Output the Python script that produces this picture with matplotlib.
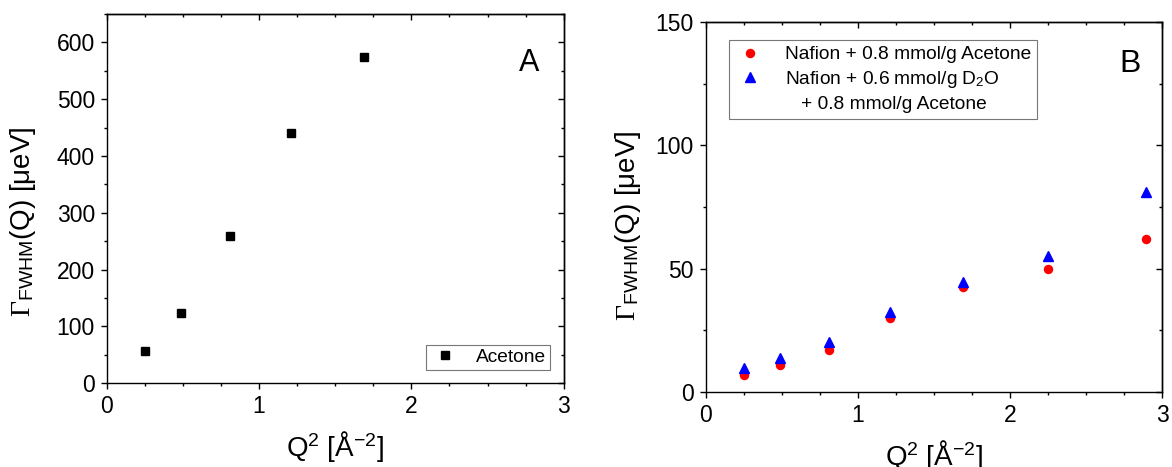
import matplotlib
matplotlib.use('Agg')
import matplotlib.pyplot as plt
from matplotlib.lines import Line2D
from matplotlib.ticker import MultipleLocator

plt.rcParams['font.family'] = ['Liberation Sans', 'DejaVu Sans']
plt.rcParams['mathtext.fontset'] = 'custom'
plt.rcParams['mathtext.rm'] = 'Liberation Serif'
plt.rcParams['mathtext.it'] = 'Liberation Serif:italic'
plt.rcParams['mathtext.sf'] = 'Liberation Sans'
plt.rcParams['axes.linewidth'] = 1.0

# Panel A: pure acetone
q2_a = [0.25, 0.49, 0.81, 1.21, 1.69]
gamma_acetone = [56, 124, 259, 440, 575]

# Panel B: acetone in Nafion, dry and with D2O
q2_b = [0.25, 0.49, 0.81, 1.21, 1.69, 2.25, 2.89]
gamma_nafion_acetone = [6.8, 10.8, 16.9, 29.8, 42.7, 49.7, 62.0]
gamma_nafion_d2o_acetone = [9.5, 13.6, 20.3, 32.2, 44.4, 55.2, 81.0]

TICK_FS = 16.5
LABEL_FS = 20
LEGEND_FS = 13.8

YLABEL = r'$\Gamma_{\mathsf{FWHM}}$(Q) [$\mathsf{\mu}$eV]'
XLABEL = r'Q$^{\mathsf{2}}$ [Å$^{\mathsf{-2}}$]'


def style_axes(ax, ymax, ymajor, yminor):
    ax.set_xlim(0, 3)
    ax.set_ylim(0, ymax)
    ax.xaxis.set_major_locator(MultipleLocator(1))
    ax.xaxis.set_minor_locator(MultipleLocator(0.25))
    ax.yaxis.set_major_locator(MultipleLocator(ymajor))
    ax.yaxis.set_minor_locator(MultipleLocator(yminor))
    ax.tick_params(which='both', direction='out', top=False, right=False,
                   labelsize=TICK_FS, width=1.0)
    ax.tick_params(which='major', length=4.5)
    ax.tick_params(which='minor', length=2.5)
    ax.tick_params(axis='x', pad=4)
    ax.tick_params(axis='y', pad=4)

    # mirrored axes on top/right with inward ticks, no labels
    top = ax.secondary_xaxis('top')
    top.xaxis.set_major_locator(MultipleLocator(1))
    top.xaxis.set_minor_locator(MultipleLocator(0.25))
    top.tick_params(which='both', direction='in', labeltop=False, width=1.0)
    top.tick_params(which='major', length=4.5)
    top.tick_params(which='minor', length=2.5)
    right = ax.secondary_yaxis('right')
    right.yaxis.set_major_locator(MultipleLocator(ymajor))
    right.yaxis.set_minor_locator(MultipleLocator(yminor))
    right.tick_params(which='both', direction='in', labelright=False, width=1.0)
    right.tick_params(which='major', length=4.5)
    right.tick_params(which='minor', length=2.5)

    ax.set_xlabel(XLABEL, fontsize=LABEL_FS, labelpad=8)
    ax.set_ylabel(YLABEL, fontsize=LABEL_FS)


fig = plt.figure(figsize=(11.72, 4.67), dpi=100)
ax_a = fig.add_axes([0.0910, 0.1792, 0.3900, 0.7908])
ax_b = fig.add_axes([0.6021, 0.1612, 0.3896, 0.7910])

# --- Panel A ---
ax_a.plot(q2_a, gamma_acetone, linestyle='none', marker='s', markersize=5.4,
          color='black', label='Acetone')
style_axes(ax_a, 650, 100, 50)
ax_a.yaxis.set_label_coords(-0.150, 0.437)
ax_a.text(0.924, 0.866, 'A', transform=ax_a.transAxes, fontsize=22,
          ha='center', va='center')
leg_a = ax_a.legend(loc='lower right', bbox_to_anchor=(0.970, 0.036),
                    fontsize=LEGEND_FS, frameon=True, fancybox=False,
                    edgecolor='#555555', borderpad=0.2, handletextpad=0.8,
                    handlelength=1.6, borderaxespad=0)
leg_a.get_frame().set_linewidth(0.8)

# --- Panel B ---
ax_b.plot(q2_b, gamma_nafion_acetone, linestyle='none', marker='o',
          markersize=5.8, color='#ff0000',
          label='Nafion + 0.8 mmol/g Acetone')
ax_b.plot(q2_b, gamma_nafion_d2o_acetone, linestyle='none', marker='^',
          markersize=7, color='#0000ff',
          label=r'Nafion + 0.6 mmol/g D$_{\mathsf{2}}$O')
style_axes(ax_b, 150, 50, 25)
ax_b.yaxis.set_label_coords(-0.137, 0.450)
ax_b.text(0.929, 0.888, 'B', transform=ax_b.transAxes, fontsize=23,
          ha='center', va='center')
handles, labels = ax_b.get_legend_handles_labels()
handles.append(Line2D([], [], linestyle='none', marker=''))
labels.append('   + 0.8 mmol/g Acetone')
leg_b = ax_b.legend(handles, labels, loc='upper left',
                    bbox_to_anchor=(0.0515, 0.952), fontsize=LEGEND_FS,
                    frameon=True, fancybox=False, edgecolor='#555555',
                    borderpad=0.3, handletextpad=1.0, handlelength=1.6,
                    labelspacing=0.3, borderaxespad=0)
leg_b.get_frame().set_linewidth(0.8)

fig.savefig('out.png', dpi=100)
